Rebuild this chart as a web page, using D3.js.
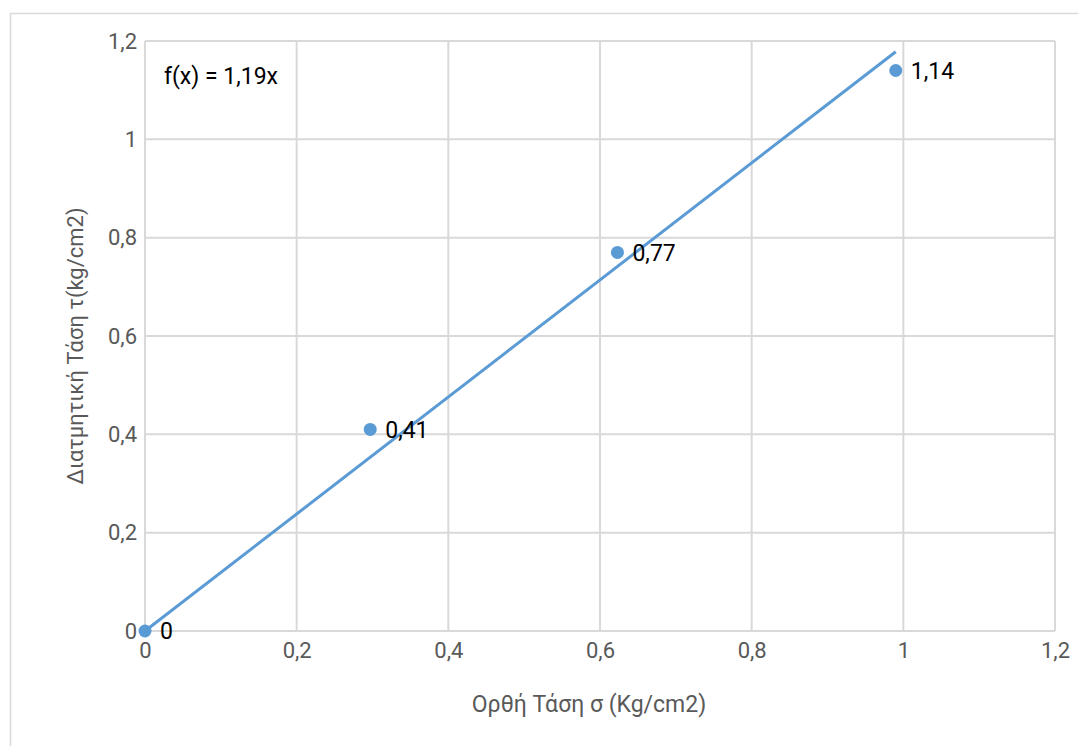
<!DOCTYPE html>
<html><head><meta charset="utf-8">
<script src="https://cdn.jsdelivr.net/npm/d3@7"></script>
<style>body{margin:0;background:#fff;} svg{display:block;font-family:Roboto,"Noto Sans",sans-serif;}</style>
</head><body>
<svg id="c" width="1078" height="746"></svg>
<script>
const xValues = [0, 0.297, 0.623, 0.99];
const yValues = [0, 0.41, 0.77, 1.14];
const labels = ["0", "0,41", "0,77", "1,14"];
const ticks = [0, 0.2, 0.4, 0.6, 0.8, 1, 1.2];
const slope = 1.19;
const trendLabel = "f(x) = 1,19x";
const xTitle = "Ορθή Τάση σ (Kg/cm2)";
const yTitle = "Διατμητική Τάση τ(kg/cm2)";

const svg = d3.select("#c");
const fmt = d => String(d).replace(".", ",");
const x = d3.scaleLinear().domain([0, 1.2]).range([145, 1055]);
const y = d3.scaleLinear().domain([0, 1.2]).range([631, 41]);

// outer frame
svg.append("rect").attr("x", 10.5).attr("y", 13.5).attr("width", 1100).attr("height", 800)
  .attr("fill", "#fff").attr("stroke", "#d9d9d9").attr("stroke-width", 1.5);

// grid
const g = svg.append("g");
g.selectAll("line.h").data(ticks).join("line")
  .attr("x1", x(0)).attr("x2", x(1.2)).attr("y1", d => y(d)).attr("y2", d => y(d))
  .attr("stroke", "#d9d9d9").attr("stroke-width", 2);
g.selectAll("line.v").data(ticks).join("line")
  .attr("y1", y(0)).attr("y2", y(1.2)).attr("x1", d => x(d)).attr("x2", d => x(d))
  .attr("stroke", "#d9d9d9").attr("stroke-width", 2);

// axes labels via d3 axes
const xAxis = d3.axisBottom(x).tickValues(ticks).tickFormat(fmt).tickSize(0).tickPadding(11);
const yAxis = d3.axisLeft(y).tickValues(ticks).tickFormat(fmt).tickSize(0).tickPadding(8);
const xa = svg.append("g").attr("transform", `translate(0,${y(0)})`).call(xAxis);
const ya = svg.append("g").attr("transform", `translate(${x(0)},0)`).call(yAxis);
[xa, ya].forEach(a => {
  a.select(".domain").remove();
  a.selectAll("text").attr("fill", "#595959").style("font-size", "22px").style("font-family", "Roboto");
});

// trendline
const xmax = d3.max(xValues);
svg.append("line")
  .attr("x1", x(0)).attr("y1", y(0)).attr("x2", x(xmax)).attr("y2", y(slope * xmax))
  .attr("stroke", "#5b9bd5").attr("stroke-width", 3);

// points
const pts = xValues.map((v, i) => ({x: v, y: yValues[i], l: labels[i]}));
svg.selectAll("circle.p").data(pts).join("circle")
  .attr("cx", d => x(d.x)).attr("cy", d => y(d.y)).attr("r", 6.5).attr("fill", "#5b9bd5");
svg.selectAll("text.dl").data(pts).join("text")
  .attr("x", d => x(d.x) + 15).attr("y", d => y(d.y)).attr("dy", "0.36em")
  .attr("fill", "#000").style("font-size", "23px").text(d => d.l);

// trend equation
svg.append("text").attr("x", 164).attr("y", 84).attr("fill", "#000")
  .style("font-size", "23px").text(trendLabel);

// titles
svg.append("text").attr("x", 589).attr("y", 712).attr("text-anchor", "middle")
  .attr("fill", "#595959").style("font-size", "23px").text(xTitle);
svg.append("text").attr("transform", "translate(83,346) rotate(-90)").attr("text-anchor", "middle")
  .attr("fill", "#595959").style("font-size", "22px").text(yTitle);
</script>
</body></html>
